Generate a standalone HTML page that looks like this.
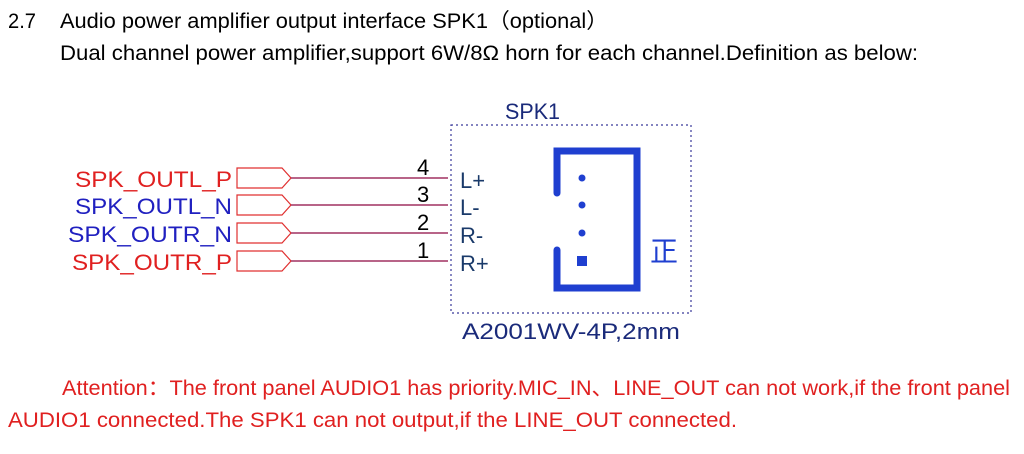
<!DOCTYPE html>
<html><head><meta charset="utf-8"><style>
html,body{margin:0;padding:0;background:#fff;width:1024px;height:454px;overflow:hidden}
svg{display:block}
text{font-family:"Liberation Sans","Noto Sans CJK SC",sans-serif}
.h{font-size:21px}
.l{font-size:22px}
</style></head><body>
<svg width="1024" height="454" viewBox="0 0 1024 454" xmlns="http://www.w3.org/2000/svg">
<text class="h" x="8" y="28" fill="#000" textLength="28" lengthAdjust="spacingAndGlyphs">2.7</text>
<text class="h" x="60" y="28" fill="#000" textLength="548" lengthAdjust="spacingAndGlyphs">Audio power amplifier output interface SPK1（optional）</text>
<text class="h" x="60" y="60" fill="#000" textLength="858" lengthAdjust="spacingAndGlyphs">Dual channel power amplifier,support 6W/8Ω horn for each channel.Definition as below:</text>
<text class="l" x="505" y="119" fill="#1a2a7a" textLength="55" lengthAdjust="spacingAndGlyphs">SPK1</text>
<rect x="451" y="125" width="240" height="188" fill="none" stroke="#3a3a9a" stroke-width="1.2" stroke-dasharray="2,3"/>
<g fill="none" stroke="#e03030" stroke-width="1.2">
<path d="M237 168h45l9 10l-9 10h-45z"/>
<path d="M237 195h45l9 10l-9 10h-45z"/>
<path d="M237 223h45l9 10l-9 10h-45z"/>
<path d="M237 251h45l9 10l-9 10h-45z"/>
</g>
<g stroke="#a03060" stroke-width="1.4">
<line x1="291" y1="178" x2="448" y2="178"/>
<line x1="291" y1="205" x2="448" y2="205"/>
<line x1="291" y1="233" x2="448" y2="233"/>
<line x1="291" y1="261" x2="448" y2="261"/>
</g>
<text class="l" x="75" y="187" fill="#e02020" textLength="157" lengthAdjust="spacingAndGlyphs">SPK_OUTL_P</text>
<text class="l" x="75" y="214" fill="#2020c0" textLength="157" lengthAdjust="spacingAndGlyphs">SPK_OUTL_N</text>
<text class="l" x="68" y="242" fill="#2020c0" textLength="164" lengthAdjust="spacingAndGlyphs">SPK_OUTR_N</text>
<text class="l" x="72" y="270" fill="#e02020" textLength="160" lengthAdjust="spacingAndGlyphs">SPK_OUTR_P</text>
<g class="l" fill="#000">
<text x="417" y="175">4</text><text x="417" y="202">3</text><text x="417" y="230">2</text><text x="417" y="258">1</text>
</g>
<g class="l" fill="#1a3a6a">
<text x="460" y="188">L+</text><text x="460" y="215">L-</text><text x="460" y="243">R-</text><text x="460" y="271">R+</text>
</g>
<g fill="none" stroke="#1f3fd0" stroke-width="7" stroke-linecap="round">
<path d="M557 193V151H637V288H557V250"/>
</g>
<g fill="#1f3fd0">
<circle cx="582" cy="178" r="3.5"/><circle cx="582" cy="205" r="3.5"/><circle cx="582" cy="233" r="3.5"/>
<rect x="577" y="256" width="10" height="10"/>
</g>
<text x="650" y="261" style="font-size:28px" fill="#1f3fd0">正</text>
<text class="l" x="462" y="339" fill="#1a2a7a" textLength="218" lengthAdjust="spacingAndGlyphs">A2001WV-4P,2mm</text>
<text class="h" x="62" y="395" fill="#e02020" textLength="948" lengthAdjust="spacingAndGlyphs">Attention：The front panel AUDIO1 has priority.MIC_IN、LINE_OUT can not work,if the front panel</text>
<text class="h" x="8" y="427" fill="#e02020" textLength="729" lengthAdjust="spacingAndGlyphs">AUDIO1 connected.The SPK1 can not output,if the LINE_OUT connected.</text>
</svg>
</body></html>
